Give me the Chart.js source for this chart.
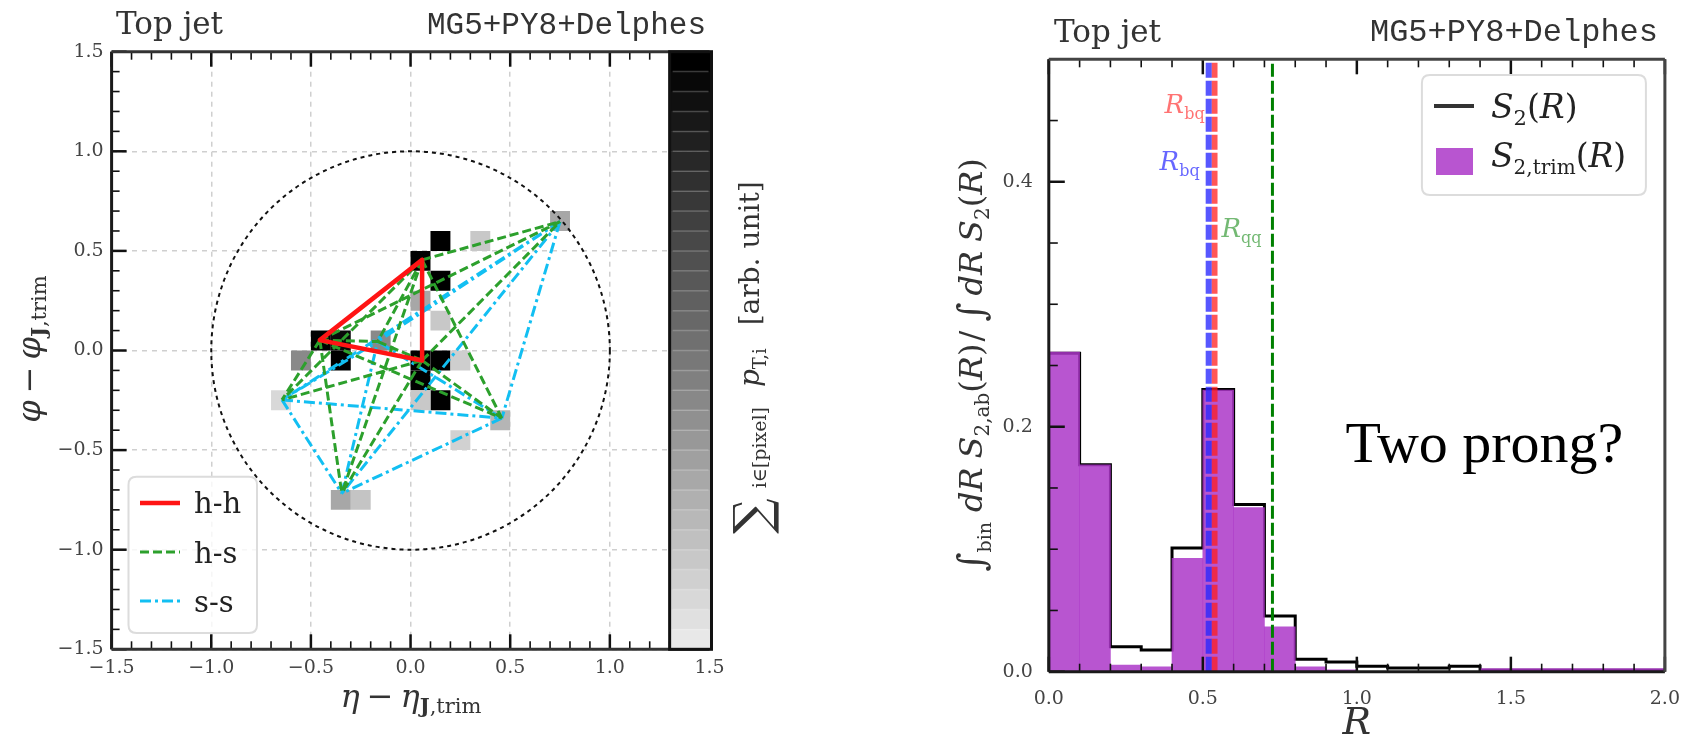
<!DOCTYPE html>
<html><head><meta charset="utf-8">
<script src="https://cdn.jsdelivr.net/npm/chart.js@4.4.1/dist/chart.umd.min.js"></script>
<style>
html,body{margin:0;padding:0;background:#fff;width:1688px;height:739px;overflow:hidden;}
canvas{position:absolute;top:0;}
#left{left:0;} #right{left:900px;}
</style></head><body>
<canvas id="left" width="790" height="739"></canvas>
<canvas id="right" width="788" height="739"></canvas>
<script>
// ---------------- LEFT PANEL DATA (jet image) ----------------
const etaTicks = [-1.5, -1.0, -0.5, 0.0, 0.5, 1.0, 1.5];
const phiTicks = [-1.5, -1.0, -0.5, 0.0, 0.5, 1.0, 1.5];
const pixelEta = [0.15, 0.05, 0.15, -0.45, -0.35, -0.35, 0.05, 0.15, 0.05, 0.15,
                  0.35, 0.15, 0.25, 0.05, 0.25, -0.65, -0.25,
                  0.05, -0.55, -0.15, 0.45, -0.35, 0.75];
const pixelPhi = [0.55, 0.45, 0.35, 0.05, 0.05, -0.05, -0.05, -0.05, -0.15, -0.25,
                  0.55, 0.15, -0.05, -0.25, -0.45, -0.25, -0.75,
                  0.25, -0.05, 0.05, -0.35, -0.75, 0.65];
const pixelPt  = [1.0, 1.0, 1.0, 1.0, 0.96, 1.0, 1.0, 1.0, 1.0, 1.0,
                  0.14, 0.14, 0.11, 0.14, 0.10, 0.07, 0.155,
                  0.28, 0.41, 0.41, 0.22, 0.28, 0.28];
const hardEta = [-0.455, 0.058, 0.058];
const hardPhi = [0.052, 0.455, -0.050];
const softEta = [0.750, -0.645, 0.458, -0.345, -0.165];
const softPhi = [0.647, -0.248, -0.340, -0.717, 0.045];
const pairLabels = ['h-h', 'h-s', 's-s'];
const jetRadius = 1.0;
const pixelSize = 0.1;
const cbarStart = 1.3;

// ---------------- RIGHT PANEL DATA (histogram) ----------------
const rBinLow = [0.0, 0.1, 0.2, 0.3, 0.4, 0.5, 0.6, 0.7, 0.8, 0.9,
                 1.0, 1.1, 1.2, 1.3, 1.4, 1.5, 1.6, 1.7, 1.8, 1.9];
const binWidth = 0.1;
const s2Values     = [0.260, 0.169, 0.0204, 0.0177, 0.101, 0.2305, 0.1366, 0.0455, 0.0101, 0.0079,
                      0.0045, 0.003, 0.003, 0.0045, 0.0012, 0.0012, 0.0012, 0.0012, 0.0012, 0.0012];
const s2TrimValues = [0.261, 0.169, 0.0055, 0.0040, 0.0925, 0.230, 0.134, 0.0367, 0.0040, 0.0015,
                      0, 0, 0, 0, 0.0025, 0.0025, 0.0025, 0.0025, 0.0025, 0.0025];
const rTicks = [0.0, 0.5, 1.0, 1.5, 2.0];
const sTicks = [0.0, 0.2, 0.4];
const markerR = [0.519, 0.538, 0.726];          // blue, red, green reference radii
const markerSub = ['bq', 'bq', 'qq'];
const seriesLabels = ['S2', 'S2trim'];

// ---------------- helpers ----------------
const SERIF = '"DejaVu Serif", serif';
const TIMES = '"Liberation Serif", serif';
const MONO = '"Liberation Mono", monospace';
const f = (size, style) => (style ? style + ' ' : '') + size + 'px ' + SERIF;
const fmt = v => v.toFixed(1).replace('-', '\u2212');
const grayOf = v => { const g = Math.round(232 * (1 - v)); return `rgb(${g},${g},${g})`; };
const RED = 'rgb(255,20,20)', GREEN = '#2ca02c', CYAN = '#12bff2';
const PURPLE = 'rgba(172,55,200,0.85)';

function richWidth(ctx, parts) {
  let w = 0;
  for (const p of parts) { ctx.font = p.font; w += ctx.measureText(p.t).width + (p.gap || 0); }
  return w;
}
function drawRich(ctx, parts, x, y, align) {
  const w = richWidth(ctx, parts);
  let cx = align === 'center' ? x - w / 2 : align === 'right' ? x - w : x;
  ctx.textAlign = 'left'; ctx.textBaseline = 'alphabetic';
  for (const p of parts) {
    ctx.font = p.font;
    if (p.color) ctx.fillStyle = p.color;
    ctx.fillText(p.t, cx, y + (p.dy || 0));
    cx += ctx.measureText(p.t).width + (p.gap || 0);
  }
}
function roundRect(ctx, x, y, w, h, r) {
  ctx.beginPath();
  ctx.moveTo(x + r, y); ctx.lineTo(x + w - r, y); ctx.quadraticCurveTo(x + w, y, x + w, y + r);
  ctx.lineTo(x + w, y + h - r); ctx.quadraticCurveTo(x + w, y + h, x + w - r, y + h);
  ctx.lineTo(x + r, y + h); ctx.quadraticCurveTo(x, y + h, x, y + h - r);
  ctx.lineTo(x, y + r); ctx.quadraticCurveTo(x, y, x + r, y); ctx.closePath();
}
function line(ctx, x1, y1, x2, y2) { ctx.beginPath(); ctx.moveTo(x1, y1); ctx.lineTo(x2, y2); ctx.stroke(); }

Chart.defaults.font.family = 'DejaVu Serif';

// ---------------- LEFT CHART ----------------
const H = hardEta.map((e, i) => ({ x: e, y: hardPhi[i] }));
const S = softEta.map((e, i) => ({ x: e, y: softPhi[i] }));
const GAP = { x: null, y: null };
const hhData = [], hsData = [], ssData = [];
for (let i = 0; i < H.length; i++) hhData.push(H[i], H[(i + 1) % H.length], GAP);
for (const h of H) for (const s of S) hsData.push(h, s, GAP);
for (let i = 0; i < S.length; i++) for (let j = i + 1; j < S.length; j++) ssData.push(S[i], S[j], GAP);
const pixelData = pixelEta.map((e, i) => ({ x: e, y: pixelPhi[i] }));
const pixelColors = pixelPt.map(grayOf);

const leftDecor = {
  id: 'leftDecor',
  afterDatasetsDraw(chart) {
    const { ctx, chartArea: a, scales: { x, y } } = chart;
    ctx.save();
    // jet circle
    const cx = x.getPixelForValue(0), cy = y.getPixelForValue(0);
    ctx.beginPath();
    ctx.ellipse(cx, cy, x.getPixelForValue(jetRadius) - cx, cy - y.getPixelForValue(jetRadius), 0, 0, 2 * Math.PI);
    ctx.setLineDash([4, 4]); ctx.lineWidth = 2; ctx.strokeStyle = '#111'; ctx.stroke();
    ctx.setLineDash([]);
    // inward ticks
    ctx.strokeStyle = '#111';
    for (let i = 0; i <= 30; i++) {
      const v = -1.5 + i * 0.1, major = i % 5 === 0, len = major ? 15 : 8;
      ctx.lineWidth = major ? 2.5 : 1.6;
      const px = x.getPixelForValue(v), py = y.getPixelForValue(v);
      line(ctx, px, a.bottom, px, a.bottom - len);
      line(ctx, px, a.top, px, a.top + len);
      line(ctx, a.left, py, a.left + len, py);
    }
    // frame
    ctx.lineWidth = 3; ctx.strokeStyle = '#1a1a1a';
    line(ctx, a.left, a.top, a.left, a.bottom);
    ctx.strokeStyle = '#333';
    line(ctx, a.left, a.top, a.right, a.top);
    line(ctx, a.left, a.bottom, a.right, a.bottom);
    // colorbar
    const cbL = x.getPixelForValue(cbarStart), cbR = a.right + 2;
    const N = 30, hb = (a.bottom - a.top) / N;
    for (let k = 0; k < N; k++) {
      ctx.fillStyle = grayOf(1 - k / (N - 1));
      ctx.fillRect(cbL, a.top + k * hb, cbR - cbL, hb + 0.5);
    }
    ctx.strokeStyle = 'rgba(255,255,255,0.22)'; ctx.lineWidth = 1.5;
    for (let k = 1; k < N; k++) line(ctx, cbL + 3, a.top + k * hb, cbR - 3, a.top + k * hb);
    ctx.strokeStyle = '#111'; ctx.lineWidth = 3;
    ctx.strokeRect(cbL, a.top, cbR - cbL, a.bottom - a.top);
    ctx.restore();
  },
  afterDraw(chart) {
    const { ctx } = chart;
    const ds = chart.data.datasets;
    ctx.save();
    ctx.fillStyle = '#333';
    // titles
    ctx.font = f(31); ctx.textAlign = 'left'; ctx.textBaseline = 'alphabetic';
    ctx.fillText('Top jet', 116, 34);
    ctx.font = '31px ' + MONO; ctx.textAlign = 'right';
    ctx.fillText('MG5+PY8+Delphes', 706, 34);
    // x label
    drawRich(ctx, [
      { t: '\u03b7', font: f(32, 'italic'), gap: 7 }, { t: '\u2212', font: f(32), gap: 7 },
      { t: '\u03b7', font: f(32, 'italic') }, { t: 'J', font: f(21, 'bold'), dy: 6 },
      { t: ',trim', font: f(21), dy: 6 }], 411, 707, 'center');
    // y label
    ctx.save(); ctx.translate(40, 349); ctx.rotate(-Math.PI / 2);
    drawRich(ctx, [
      { t: '\u03c6', font: f(32, 'italic'), gap: 7 }, { t: '\u2212', font: f(32), gap: 7 },
      { t: '\u03c6', font: f(32, 'italic') }, { t: 'J', font: f(21, 'bold'), dy: 6 },
      { t: ',trim', font: f(21), dy: 6 }], 0, 0, 'center');
    ctx.restore();
    // colorbar label
    ctx.save(); ctx.translate(759, 534); ctx.rotate(-Math.PI / 2);
    drawRich(ctx, [
      { t: '\u2211', font: f(50), dy: 10, gap: 10 },
      { t: 'i\u2208[pixel]', font: f(19), dy: 7, gap: 20 },
      { t: 'p', font: f(28, 'italic') }, { t: 'T,i', font: f(18), dy: 7, gap: 23 },
      { t: '[arb. unit]', font: f(28) }], 0, 0, 'left');
    ctx.restore();
    // legend
    ctx.fillStyle = 'rgba(255,255,255,0.8)';
    roundRect(ctx, 128.5, 476.7, 128.5, 156.3, 8); ctx.fill();
    ctx.strokeStyle = '#dcdcdc'; ctx.lineWidth = 2; ctx.stroke();
    const rows = [503, 552, 601], base = [513, 563, 612];
    [0, 1, 2].forEach(k => {
      const d = ds[k];
      ctx.strokeStyle = d.borderColor; ctx.lineWidth = d.borderWidth;
      ctx.setLineDash(d.borderDash || []);
      line(ctx, 140, rows[k], 180, rows[k]);
      ctx.setLineDash([]);
      ctx.fillStyle = '#222'; ctx.font = f(29); ctx.textAlign = 'left';
      ctx.fillText(d.label, 194, base[k]);
    });
    ctx.restore();
  }
};

new Chart(document.getElementById('left'), {
  type: 'scatter',
  data: {
    datasets: [
      { type: 'line', label: pairLabels[0], data: hhData, borderColor: RED, borderWidth: 4.5, pointRadius: 0,
        spanGaps: false, fill: false, order: 0, borderCapStyle: 'round' },
      { type: 'line', label: pairLabels[1], data: hsData, borderColor: GREEN, borderWidth: 3, borderDash: [9, 4],
        pointRadius: 0, spanGaps: false, fill: false, order: 1 },
      { type: 'line', label: pairLabels[2], data: ssData, borderColor: CYAN, borderWidth: 3, borderDash: [11, 4, 3, 4],
        pointRadius: 0, spanGaps: false, fill: false, order: 2 },
      { label: 'pixels', data: pixelData, pointStyle: 'rect', pointBackgroundColor: pixelColors, pointBorderWidth: 0,
        pointRadius: c => Math.abs(c.chart.scales.x.getPixelForValue(pixelSize) - c.chart.scales.x.getPixelForValue(0)) / Math.SQRT2,
        order: 3 }
    ]
  },
  options: {
    responsive: false, animation: false, events: [],
    layout: { padding: { left: 0, top: 51.7, right: 790 - 709.5, bottom: 0 } },
    plugins: { legend: { display: false }, tooltip: { enabled: false } },
    scales: {
      x: { type: 'linear', min: -1.5, max: 1.5,
        afterBuildTicks: s => { s.ticks = etaTicks.map(v => ({ value: v })); },
        afterFit: s => { s.height = 739 - 649.3; },
        ticks: { callback: v => fmt(v), font: { family: 'DejaVu Serif', size: 19 }, color: '#444', padding: 7, autoSkip: false, maxRotation: 0 },
        grid: { color: '#cfcfcf', lineWidth: 1.5, drawTicks: false }, border: { display: false, dash: [5, 5] } },
      y: { type: 'linear', min: -1.5, max: 1.5,
        afterBuildTicks: s => { s.ticks = phiTicks.map(v => ({ value: v })); },
        afterFit: s => { s.width = 111.6; },
        ticks: { callback: v => fmt(v), font: { family: 'DejaVu Serif', size: 19 }, color: '#444', padding: 8, autoSkip: false },
        grid: { color: '#cfcfcf', lineWidth: 1.5, drawTicks: false }, border: { display: false, dash: [5, 5] } }
    }
  },
  plugins: [leftDecor]
});

// ---------------- RIGHT CHART ----------------
const barData = rBinLow.map((r, i) => ({ x: r + binWidth / 2, y: s2TrimValues[i] }));
const stepData = [{ x: rBinLow[0], y: 0 }];
rBinLow.forEach((r, i) => stepData.push({ x: r, y: s2Values[i] }));
stepData.push({ x: rBinLow[rBinLow.length - 1] + binWidth, y: s2Values[s2Values.length - 1] });
stepData.push({ x: rBinLow[rBinLow.length - 1] + binWidth, y: 0 });
const markerColors = ['rgba(40,40,255,0.78)', 'rgba(255,30,30,0.75)', '#008000'];
const markerWidths = [6, 6, 3];
const markerDash = [[15, 3], [15, 3], [13, 4]];
const markerSets = markerR.map((r, k) => ({
  type: 'line', label: 'R' + markerSub[k], data: [{ x: r, y: 0 }, { x: r, y: 0.5 }],
  borderColor: markerColors[k], borderWidth: markerWidths[k], borderDash: markerDash[k],
  pointRadius: 0, fill: false, order: 0
}));

const rightDecor = {
  id: 'rightDecor',
  afterDatasetsDraw(chart) {
    const { ctx, chartArea: a, scales: { x, y } } = chart;
    ctx.save();
    ctx.strokeStyle = '#111';
    for (let i = 0; i <= 20; i++) {
      const v = i * 0.1, major = i % 5 === 0, len = major ? 15 : 8;
      ctx.lineWidth = major ? 2.5 : 1.6;
      const px = x.getPixelForValue(v);
      line(ctx, px, a.bottom, px, a.bottom - len);
      line(ctx, px, a.top, px, a.top + len);
    }
    for (let i = 0; i <= 10; i++) {
      const v = i * 0.05, major = i % 4 === 0, len = major ? 16 : 9;
      ctx.lineWidth = major ? 2.5 : 1.6;
      const py = y.getPixelForValue(v);
      line(ctx, a.left, py, a.left + len, py);
    }
    ctx.lineWidth = 3; ctx.strokeStyle = '#1a1a1a';
    line(ctx, a.left, a.top, a.left, a.bottom);
    line(ctx, a.left, a.bottom, a.right, a.bottom);
    ctx.strokeStyle = '#444';
    line(ctx, a.left, a.top, a.right, a.top);
    line(ctx, a.right, a.top, a.right, a.bottom);
    ctx.restore();
  },
  afterDraw(chart) {
    const { ctx, scales: { x, y } } = chart;
    ctx.save();
    ctx.fillStyle = '#333';
    ctx.font = f(31); ctx.textAlign = 'left'; ctx.textBaseline = 'alphabetic';
    ctx.fillText('Top jet', 154, 42);
    ctx.font = '32px ' + MONO; ctx.textAlign = 'right';
    ctx.fillText('MG5+PY8+Delphes', 758, 41);
    // marker labels
    const bluePx = x.getPixelForValue(markerR[0]), redPx = x.getPixelForValue(markerR[1]);
    drawRich(ctx, [{ t: 'R', font: f(26, 'italic'), color: 'rgba(255,0,0,0.55)' },
      { t: markerSub[1], font: f(16), dy: 6 }], bluePx - 4, y.getPixelForValue(0.456), 'right');
    drawRich(ctx, [{ t: 'R', font: f(26, 'italic'), color: 'rgba(0,0,255,0.6)' },
      { t: markerSub[0], font: f(16), dy: 6 }], bluePx - 9, y.getPixelForValue(0.41), 'right');
    drawRich(ctx, [{ t: 'R', font: f(26, 'italic'), color: 'rgba(0,128,0,0.55)' },
      { t: markerSub[2], font: f(16), dy: 6 }], redPx + 7, y.getPixelForValue(0.355), 'left');
    // axis labels
    ctx.fillStyle = '#333';
    drawRich(ctx, [{ t: 'R', font: f(38, 'italic') }], x.getPixelForValue(1.0), 734, 'center');
    ctx.save(); ctx.translate(82, 365); ctx.rotate(-Math.PI / 2);
    drawRich(ctx, [
      { t: '\u222b', font: f(37), dy: 2 }, { t: 'bin', font: f(19), dy: 9, gap: 10 },
      { t: 'dR', font: f(32, 'italic'), gap: 9 },
      { t: 'S', font: f(32, 'italic') }, { t: '2,ab', font: f(20), dy: 7 },
      { t: '(', font: f(32) }, { t: 'R', font: f(32, 'italic') }, { t: ')', font: f(32), gap: 2 },
      { t: '/', font: f(32), gap: 9 },
      { t: '\u222b', font: f(37), dy: 2, gap: 7 },
      { t: 'dR', font: f(32, 'italic'), gap: 9 },
      { t: 'S', font: f(32, 'italic') }, { t: '2', font: f(20), dy: 7 },
      { t: '(', font: f(32) }, { t: 'R', font: f(32, 'italic') }, { t: ')', font: f(32) }], 0, 0, 'center');
    ctx.restore();
    // legend
    ctx.fillStyle = 'rgba(255,255,255,0.8)';
    roundRect(ctx, 521.9, 75, 224, 120, 8); ctx.fill();
    ctx.strokeStyle = '#dcdcdc'; ctx.lineWidth = 2; ctx.stroke();
    ctx.strokeStyle = '#333'; ctx.lineWidth = 4;
    line(ctx, 534, 106, 574, 106);
    ctx.fillStyle = PURPLE; ctx.fillRect(536, 148, 37, 27);
    ctx.fillStyle = '#222';
    drawRich(ctx, [{ t: 'S', font: f(33, 'italic') }, { t: '2', font: f(21), dy: 7 },
      { t: '(', font: f(33) }, { t: 'R', font: f(33, 'italic') }, { t: ')', font: f(33) }], 591, 118, 'left');
    drawRich(ctx, [{ t: 'S', font: f(33, 'italic') }, { t: '2,trim', font: f(20), dy: 7 },
      { t: '(', font: f(33) }, { t: 'R', font: f(33, 'italic') }, { t: ')', font: f(33) }], 591, 167, 'left');
    // annotation
    ctx.fillStyle = '#000'; ctx.font = '58px ' + TIMES; ctx.textAlign = 'left';
    ctx.fillText('Two prong?', 445.5, 461.7);
    ctx.restore();
  }
};

new Chart(document.getElementById('right'), {
  type: 'bar',
  data: {
    datasets: [
      ...markerSets,
      { type: 'bar', label: seriesLabels[1], data: barData, backgroundColor: PURPLE, borderWidth: 0,
        barPercentage: 1, categoryPercentage: 1, order: 2 },
      { type: 'line', label: seriesLabels[0], data: stepData, stepped: 'before', borderColor: '#000', borderWidth: 3,
        pointRadius: 0, fill: false, order: 3 }
    ]
  },
  options: {
    responsive: false, animation: false, events: [],
    layout: { padding: { left: 0, top: 59.3, right: 788 - 765.2, bottom: 0 } },
    plugins: { legend: { display: false }, tooltip: { enabled: false } },
    scales: {
      x: { type: 'linear', min: 0, max: 2, offset: false,
        afterBuildTicks: s => { s.ticks = rTicks.map(v => ({ value: v })); },
        afterFit: s => { s.height = 739 - 671.7; },
        ticks: { callback: v => fmt(v), font: { family: 'DejaVu Serif', size: 19 }, color: '#444', padding: 8, autoSkip: false, maxRotation: 0 },
        grid: { display: false, offset: false }, border: { display: false } },
      y: { type: 'linear', min: 0, max: 0.5,
        afterBuildTicks: s => { s.ticks = sTicks.map(v => ({ value: v })); },
        afterFit: s => { s.width = 148.8; },
        ticks: { callback: v => fmt(v), font: { family: 'DejaVu Serif', size: 19 }, color: '#444', padding: 8, autoSkip: false },
        grid: { display: false }, border: { display: false } }
    }
  },
  plugins: [rightDecor]
});
</script>
</body></html>
